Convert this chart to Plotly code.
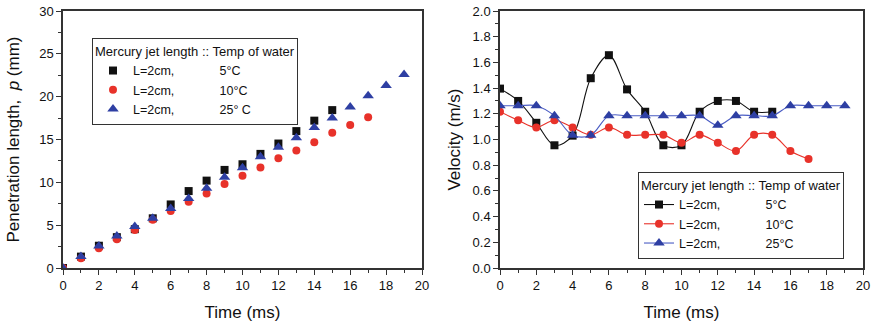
import plotly.graph_objects as go

# ---- data ----
time_pen = list(range(0, 20))
pen_5C = [0, 1.33, 2.6, 3.6, 4.53, 5.8, 7.42, 8.98, 10.2, 11.45, 12.11, 13.32, 14.53, 15.98, 17.2, 18.43]
pen_10C = [0, 1.13, 2.3, 3.36, 4.45, 5.62, 6.64, 7.73, 8.71, 9.8, 10.78, 11.72, 12.81, 13.71, 14.69, 15.78, 16.7, 17.6]
pen_25C = [0, 1.33, 2.58, 3.75, 4.84, 5.8, 6.95, 8.1, 9.3, 10.6, 11.7, 13.0, 14.1, 15.2, 16.4, 17.5, 18.8, 20.1, 21.3, 22.6]

time_vel = list(range(0, 20))
vel_5C = [1.396, 1.30, 1.13, 0.955, 1.03, 1.477, 1.656, 1.39, 1.216, 0.955, 0.955, 1.216, 1.30, 1.30, 1.216, 1.216]
vel_10C = [1.216, 1.15, 1.094, 1.15, 1.094, 1.036, 1.094, 1.036, 1.036, 1.036, 0.974, 1.036, 0.974, 0.911, 1.036, 1.036, 0.911, 0.849]
vel_25C = [1.263, 1.263, 1.263, 1.185, 1.034, 1.034, 1.185, 1.185, 1.185, 1.185, 1.185, 1.185, 1.11, 1.185, 1.185, 1.185, 1.263, 1.263, 1.263, 1.263]

time_ticks = [0, 2, 4, 6, 8, 10, 12, 14, 16, 18, 20]
time_ticktext = [str(t) for t in time_ticks]

legend_title = "Mercury jet length :: Temp of water"
names_left = ["L=2cm,", "L=2cm,", "L=2cm,"]
temps_left = ["5°C", "10°C", "25° C"]
temps_right = ["5°C", "10°C", "25°C"]

BLACK = "#111111"
RED = "#e8322a"
BLUE = "#2e3fa3"
PAD = "\u00a0" * 13

fig = go.Figure()

series_left = [(pen_5C, BLACK, "square", 8), (pen_10C, RED, "circle", 8), (pen_25C, BLUE, "triangle-up", 10)]
for (vals, col, sym, sz), nm, tp in zip(series_left, names_left, temps_left):
    fig.add_trace(go.Scatter(
        x=time_pen[:len(vals)], y=vals, mode="markers", name=nm + PAD + tp,
        marker=dict(color=col, symbol=sym, size=sz, line=dict(width=0)),
        xaxis="x", yaxis="y", legend="legend"))

series_right = [(vel_5C, BLACK, "#111111", "square", 8), (vel_10C, RED, "#e8322a", "circle", 8),
                (vel_25C, BLUE, "#4a5cc4", "triangle-up", 10)]
for (vals, col, lcol, sym, sz), nm, tp in zip(series_right, names_left, temps_right):
    fig.add_trace(go.Scatter(
        x=time_vel[:len(vals)], y=vals, mode="lines+markers", name=nm + PAD + tp,
        line=dict(color=lcol, width=1.1, shape="spline", smoothing=1.0),
        marker=dict(color=col, symbol=sym, size=sz, line=dict(width=0)),
        xaxis="x2", yaxis="y2", legend="legend2"))

W, H = 876, 330
MR = 13          # right margin in px
PW = W - MR      # plotting-area width


def fx(px):
    return px / PW


def fy(py):
    return (H - py) / H


tickfont = dict(family="Liberation Sans Narrow, Arial Narrow, Liberation Sans, Arial", size=13, color="#111")
titlefont = dict(family="Liberation Sans, Arial", size=17, color="#111")
xtitlefont = dict(family="Liberation Sans Narrow, Arial Narrow, Liberation Sans, Arial", size=17, color="#111")

axis_common = dict(showline=True, linecolor="#333", linewidth=1.5, mirror=True, showgrid=False,
                   zeroline=False, ticks="outside", ticklen=5, tickwidth=1, tickcolor="#333",
                   tickfont=tickfont, automargin=False, ticklabeloverflow="allow")

fig.update_layout(
    width=W, height=H, margin=dict(l=0, r=MR, t=0, b=0, autoexpand=False),
    paper_bgcolor="white", plot_bgcolor="white",
    xaxis=dict(domain=[fx(63), fx(422)], range=[0, 20], tickmode="array", tickvals=time_ticks,
               ticktext=time_ticktext, anchor="y",
               minor=dict(dtick=1, ticks="outside", ticklen=3, tickcolor="#333"),
               title=dict(text="Time (ms)", font=xtitlefont, standoff=14), **axis_common),
    yaxis=dict(domain=[fy(268), fy(11)], range=[0, 30], dtick=5, anchor="x",
               minor=dict(dtick=2.5, ticks="outside", ticklen=3, tickcolor="#333"),
               title=dict(text="Penetration length,  <i>p</i> (mm)", font=titlefont, standoff=15),
               **axis_common),
    xaxis2=dict(domain=[fx(500), 1.0], range=[0, 20], tickmode="array", tickvals=time_ticks,
                ticktext=time_ticktext, anchor="y2",
                minor=dict(dtick=1, ticks="outside", ticklen=3, tickcolor="#333"),
                title=dict(text="Time (ms)", font=xtitlefont, standoff=14), **axis_common),
    yaxis2=dict(domain=[fy(268), fy(11)], range=[0, 2.0], dtick=0.2, tickformat=".1f",
                anchor="x2",
                minor=dict(dtick=0.1, ticks="outside", ticklen=3, tickcolor="#333"),
                title=dict(text="Velocity (m/s)", font=titlefont, standoff=8), **axis_common),
    legend=dict(x=fx(92), y=fy(38), xanchor="left", yanchor="top",
                bordercolor="#333", borderwidth=1, bgcolor="white",
                font=dict(family="Liberation Sans, Arial", size=12.5, color="#111"),
                title=dict(text=legend_title, font=dict(family="Liberation Sans, Arial", size=13, color="#111")),
                itemwidth=30, tracegroupgap=0),
    legend2=dict(x=fx(638), y=fy(172), xanchor="left", yanchor="top",
                 bordercolor="#333", borderwidth=1, bgcolor="white",
                 font=dict(family="Liberation Sans, Arial", size=12.5, color="#111"),
                 title=dict(text=legend_title, font=dict(family="Liberation Sans, Arial", size=13, color="#111")),
                 itemwidth=30, tracegroupgap=0),
)

fig.write_html("out.html", config={"displayModeBar": False},
               post_script="document.body.style.margin='0';document.body.style.overflow='hidden';")
